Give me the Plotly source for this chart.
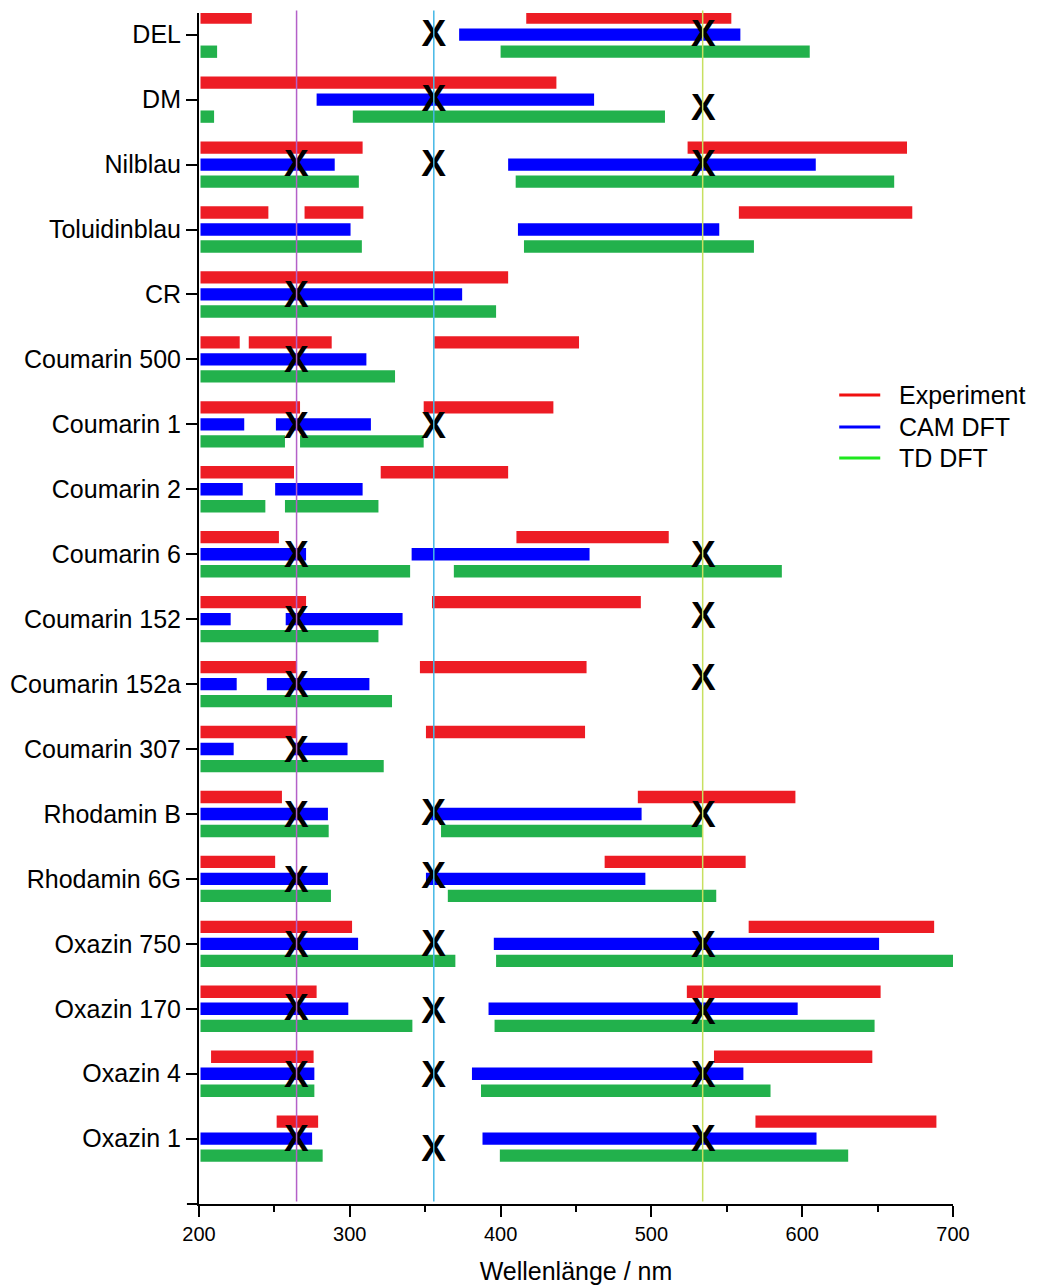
import plotly.graph_objects as go

# ---------------- data ----------------
dyes = ["DEL", "DM", "Nilblau", "Toluidinblau", "CR", "Coumarin 500", "Coumarin 1",
        "Coumarin 2", "Coumarin 6", "Coumarin 152", "Coumarin 152a", "Coumarin 307",
        "Rhodamin B", "Rhodamin 6G", "Oxazin 750", "Oxazin 170", "Oxazin 4", "Oxazin 1"]

# Experiment segments (dye, start nm, end nm)
exp_dye = ["DEL", "DEL", "DM", "Nilblau", "Nilblau", "Toluidinblau", "Toluidinblau", "Toluidinblau",
           "CR", "Coumarin 500", "Coumarin 500", "Coumarin 500", "Coumarin 1", "Coumarin 1",
           "Coumarin 2", "Coumarin 2", "Coumarin 6", "Coumarin 6", "Coumarin 152", "Coumarin 152",
           "Coumarin 152a", "Coumarin 152a", "Coumarin 307", "Coumarin 307", "Rhodamin B", "Rhodamin B",
           "Rhodamin 6G", "Rhodamin 6G", "Oxazin 750", "Oxazin 750", "Oxazin 170", "Oxazin 170",
           "Oxazin 4", "Oxazin 4", "Oxazin 1", "Oxazin 1"]
exp_start = [201, 417, 201, 201, 524, 201, 270, 558, 201, 201, 233, 356, 201, 349, 201, 320.5,
             201, 410.5, 201, 354.5, 201, 346.5, 201, 350.5, 201, 491, 201, 469, 201, 564.5,
             201, 523.5, 208, 541.5, 251.5, 569]
exp_end = [235, 553, 437, 308.5, 669.5, 246, 309, 673, 405, 227, 288, 452, 267, 435, 263, 405,
           253, 511.5, 271, 493, 264.5, 457, 264.5, 456, 255, 595.5, 250.5, 562.5, 301.5, 687.5,
           278, 652, 276, 646.5, 279, 689]

# CAM DFT segments
cam_dye = ["DEL", "DM", "Nilblau", "Nilblau", "Toluidinblau", "Toluidinblau", "CR", "Coumarin 500",
           "Coumarin 1", "Coumarin 1", "Coumarin 2", "Coumarin 2", "Coumarin 6", "Coumarin 6",
           "Coumarin 152", "Coumarin 152", "Coumarin 152a", "Coumarin 152a", "Coumarin 307", "Coumarin 307",
           "Rhodamin B", "Rhodamin B", "Rhodamin 6G", "Rhodamin 6G", "Oxazin 750", "Oxazin 750",
           "Oxazin 170", "Oxazin 170", "Oxazin 4", "Oxazin 4", "Oxazin 1", "Oxazin 1"]
cam_start = [372.5, 278, 201, 405, 201, 411.5, 201, 201, 201, 251, 201, 250.5, 201, 341,
             201, 257.5, 201, 245, 201, 262, 201, 354, 201, 350.5, 201, 395.5, 201, 392,
             201, 381, 201, 388]
cam_end = [559, 462, 290, 609, 300.5, 545, 374.5, 311, 230, 314, 229, 308.5, 271, 459,
           221, 335, 225, 313, 223, 298.5, 285.5, 493.5, 285.5, 496, 305.5, 651, 299, 597,
           276.5, 561, 275, 609.5]

# TD DFT segments
td_dye = ["DEL", "DEL", "DM", "DM", "Nilblau", "Nilblau", "Toluidinblau", "Toluidinblau", "CR",
          "Coumarin 500", "Coumarin 1", "Coumarin 1", "Coumarin 2", "Coumarin 2", "Coumarin 6", "Coumarin 6",
          "Coumarin 152", "Coumarin 152a", "Coumarin 307", "Rhodamin B", "Rhodamin B",
          "Rhodamin 6G", "Rhodamin 6G", "Oxazin 750", "Oxazin 750", "Oxazin 170", "Oxazin 170",
          "Oxazin 4", "Oxazin 4", "Oxazin 1", "Oxazin 1"]
td_start = [201, 400, 201, 302, 201, 410, 201, 415.5, 201, 201, 201, 267, 201, 257, 201, 369,
            201, 201, 201, 201, 360.5, 201, 365, 201, 397, 201, 396, 201, 387, 201, 399.5]
td_end = [212, 605, 210, 509, 306, 661, 308, 568, 397, 330, 257, 349, 244, 319, 340, 586.5,
          319, 328, 322.5, 286, 534, 287.5, 543, 370, 700, 341.5, 648, 276.5, 579, 282, 630.5]

# laser wavelengths (vertical lines)
laser_wl = [264.7, 355.7, 534.0]

# "X" marks: dye, wavelength, small row shift (in row units)
mark_dye = ["DEL", "DEL", "DM", "DM", "Nilblau", "Nilblau", "Nilblau", "CR", "Coumarin 500",
            "Coumarin 1", "Coumarin 1", "Coumarin 6", "Coumarin 6", "Coumarin 152", "Coumarin 152",
            "Coumarin 152a", "Coumarin 152a", "Coumarin 307", "Rhodamin B", "Rhodamin B", "Rhodamin B",
            "Rhodamin 6G", "Rhodamin 6G", "Oxazin 750", "Oxazin 750", "Oxazin 750",
            "Oxazin 170", "Oxazin 170", "Oxazin 170", "Oxazin 4", "Oxazin 4", "Oxazin 4",
            "Oxazin 1", "Oxazin 1", "Oxazin 1"]
mark_wl = [355.7, 534.5, 355.7, 534.5, 264.5, 355.5, 534.5, 264.5, 264.5,
           264.5, 355.5, 264.5, 534.5, 264.5, 534.5,
           264.5, 534.5, 264.5, 264.5, 355.5, 534.5,
           264.5, 355.5, 264.5, 355.5, 534.5,
           264.5, 355.5, 534.5, 264.5, 355.5, 534.5,
           264.5, 355.5, 534.5]
mark_shift = [-0.02, -0.02, -0.03, 0.12, -0.02, -0.02, -0.02, 0, 0,
              0.01, 0.02, 0, 0, 0, -0.06,
              0, -0.1, 0, 0, -0.02, 0.01,
              0.01, -0.06, 0.01, -0.01, 0,
              -0.02, 0.02, 0.03, 0.01, 0.01, 0.01,
              0, 0.14, 0]

legend_names = ["Experiment", "CAM DFT", "TD DFT"]

# ---------------- styling ----------------
FONT = "Liberation Sans, Arial, sans-serif"
bar_cols = ["#ed1c24", "#0000ff", "#22b14c"]
legend_cols = ["#f01010", "#0000ff", "#1ee81e"]
row_offsets = [-0.262, 0.0, 0.262]
series = [
    (exp_dye, exp_start, exp_end),
    (cam_dye, cam_start, cam_end),
    (td_dye, td_start, td_end),
]
row = {d: i for i, d in enumerate(dyes)}

fig = go.Figure()
for (dl, st, en), name, col, off in zip(series, legend_names, bar_cols, row_offsets):
    fig.add_trace(go.Bar(
        orientation="h",
        y=[row[d] + off for d in dl],
        base=st,
        x=[e - s for s, e in zip(st, en)],
        width=0.19,
        marker=dict(color=col, line=dict(width=0)),
        showlegend=False,
        name=name,
    ))

line_cols = ["#b460c8", "#45b8e6", "#c8e060"]
for wl, c in zip(laser_wl, line_cols):
    fig.add_shape(type="line", xref="x", yref="paper", x0=wl, x1=wl, y0=0.002, y1=1.002,
                  line=dict(color=c, width=1.5), layer="above")

X_NUDGE = 0.055  # visual centring of the glyph on the row
fig.add_trace(go.Scatter(
    x=mark_wl,
    y=[row[d] + s + X_NUDGE for d, s in zip(mark_dye, mark_shift)],
    mode="text", text=["X"] * len(mark_wl),
    textposition="middle center",
    textfont=dict(family=FONT, size=37, color="black", weight="bold"),
    showlegend=False, cliponaxis=False, hoverinfo="skip",
))

# small extension of x axis line to the left of y axis
fig.add_shape(type="line", xref="paper", yref="paper", x0=-0.016, x1=0, y0=0, y1=0,
              line=dict(color="black", width=2))

# manual legend (line samples + labels)
leg_y = [0.6793, 0.6524, 0.6264]
for name, col, yy in zip(legend_names, legend_cols, leg_y):
    fig.add_shape(type="line", xref="paper", yref="paper", x0=0.8491, x1=0.9035, y0=yy, y1=yy,
                  line=dict(color=col, width=3))
    fig.add_annotation(xref="paper", yref="paper", x=0.9261, y=yy, text=name, showarrow=False,
                       xanchor="left", yanchor="middle", font=dict(size=25, family=FONT, color="black"))

fig.update_layout(
    width=1039, height=1286,
    margin=dict(l=199, r=86, t=13, b=82, autoexpand=False),
    paper_bgcolor="white", plot_bgcolor="white",
    barmode="overlay",
    font=dict(family=FONT, color="black", size=25),
    showlegend=False,
    xaxis=dict(
        range=[200, 700], tickvals=[200, 300, 400, 500, 600, 700],
        ticks="outside", ticklen=11, tickwidth=2, tickcolor="black",
        showline=True, linecolor="black", linewidth=2, mirror=False,
        showgrid=False, zeroline=False, automargin=False,
        tickfont=dict(size=20, family=FONT),
        minor=dict(dtick=50, ticks="outside", ticklen=6, tickwidth=2, tickcolor="black", showgrid=False),
        title=dict(text="Wellenlänge / nm", font=dict(size=25, family=FONT), standoff=18),
    ),
    yaxis=dict(
        range=[18.006, -0.334], tickvals=list(range(len(dyes))), ticktext=dyes,
        ticks="outside", ticklen=11, tickwidth=2, tickcolor="black",
        showline=True, linecolor="black", linewidth=2,
        showgrid=False, zeroline=False, automargin=False,
        tickfont=dict(size=25, family=FONT),
    ),
)

fig.write_html("out.html", config={"displayModeBar": False},
               post_script="document.body.style.margin='0px';")
